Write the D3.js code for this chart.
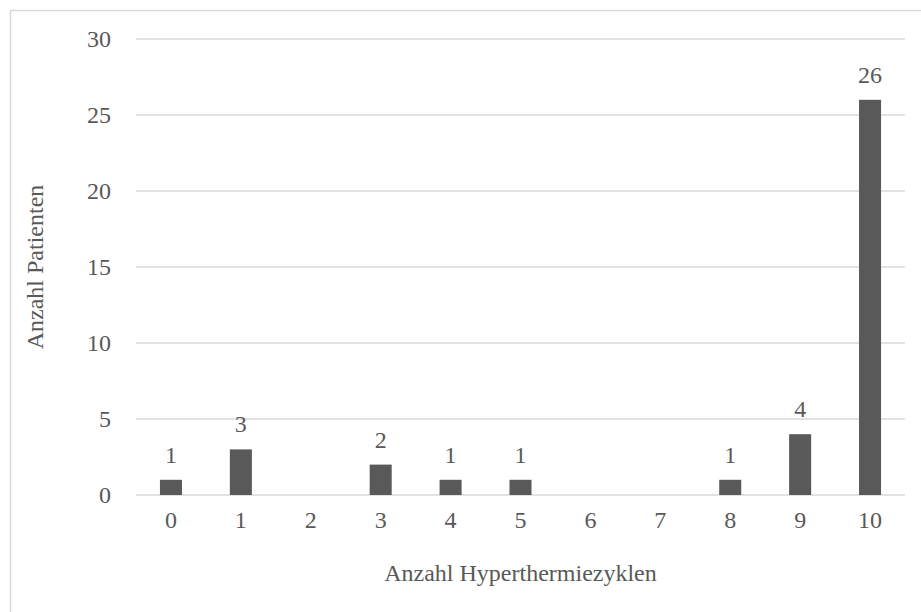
<!DOCTYPE html>
<html>
<head>
<meta charset="utf-8">
<script src="https://cdn.jsdelivr.net/npm/d3@7"></script>
<style>
  body { margin: 0; background: #fff; }
  svg { display: block; }
</style>
</head>
<body>
<div id="chart"></div>
<script>
var cycles = ["0", "1", "2", "3", "4", "5", "6", "7", "8", "9", "10"];
var patients = [1, 3, 0, 2, 1, 1, 0, 0, 1, 4, 26];
var yTicks = [0, 5, 10, 15, 20, 25, 30];

var width = 921, height = 612;
var margin = { top: 39, right: 16, bottom: 117, left: 136 };
var fontSize = 24;
var textColor = "#595959";

var svg = d3.select("#chart").append("svg")
  .attr("width", width)
  .attr("height", height);

// chart frame
svg.append("rect")
  .attr("x", 10.5)
  .attr("y", 10.5)
  .attr("width", width)
  .attr("height", height)
  .attr("fill", "none")
  .attr("stroke", "#d9d9d9")
  .attr("stroke-width", 1.5);

var x = d3.scaleBand()
  .domain(cycles)
  .range([margin.left, width - margin.right])
  .paddingInner(0.685)
  .paddingOuter(0.3425);

var y = d3.scaleLinear()
  .domain([0, 30])
  .range([height - margin.bottom, margin.top]);

// gridlines
svg.append("g")
  .selectAll("line")
  .data(yTicks)
  .join("line")
  .attr("x1", margin.left)
  .attr("x2", width - margin.right)
  .attr("y1", d => y(d))
  .attr("y2", d => y(d))
  .attr("stroke", "#d9d9d9")
  .attr("stroke-width", 1.5);

// y axis labels
var yAxis = d3.axisLeft(y).tickValues(yTicks).tickSize(0).tickPadding(25);
svg.append("g")
  .attr("transform", "translate(" + margin.left + ",0)")
  .call(yAxis)
  .call(g => g.select(".domain").remove())
  .selectAll("text")
  .style("font-family", "Liberation Serif")
  .style("font-size", fontSize + "px")
  .attr("fill", textColor);

// x axis labels
var xAxis = d3.axisBottom(x).tickSize(0).tickPadding(16);
svg.append("g")
  .attr("transform", "translate(0," + y(0) + ")")
  .call(xAxis)
  .call(g => g.select(".domain").remove())
  .selectAll("text")
  .style("font-family", "Liberation Serif")
  .style("font-size", fontSize + "px")
  .attr("fill", textColor);

// bars
svg.append("g")
  .selectAll("rect")
  .data(patients)
  .join("rect")
  .attr("x", (d, i) => x(cycles[i]))
  .attr("y", d => y(d))
  .attr("width", x.bandwidth())
  .attr("height", d => y(0) - y(d))
  .attr("fill", "#595959");

// value labels
svg.append("g")
  .selectAll("text")
  .data(patients.map((d, i) => ({ c: cycles[i], v: d })).filter(d => d.v > 0))
  .join("text")
  .attr("x", d => x(d.c) + x.bandwidth() / 2)
  .attr("y", d => y(d.v) - 17)
  .attr("text-anchor", "middle")
  .style("font-family", "Liberation Serif")
  .style("font-size", fontSize + "px")
  .attr("fill", textColor)
  .text(d => d.v);

// axis titles
svg.append("text")
  .attr("x", (margin.left + width - margin.right) / 2)
  .attr("y", 581)
  .attr("text-anchor", "middle")
  .style("font-family", "Liberation Serif")
  .style("font-size", fontSize + "px")
  .attr("fill", textColor)
  .text("Anzahl Hyperthermiezyklen");

svg.append("text")
  .attr("transform", "translate(43," + (margin.top + y(0)) / 2 + ") rotate(-90)")
  .attr("text-anchor", "middle")
  .style("font-family", "Liberation Serif")
  .style("font-size", fontSize + "px")
  .attr("fill", textColor)
  .text("Anzahl Patienten");
</script>
</body>
</html>
